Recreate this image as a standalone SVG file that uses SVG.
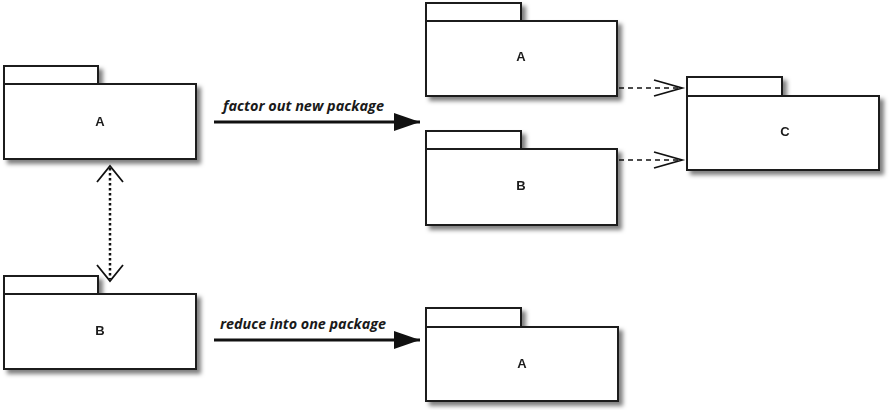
<svg xmlns="http://www.w3.org/2000/svg" width="892" height="410" viewBox="0 0 892 410">
<style>
.pk{fill:#fff;stroke:#1a1a1a;stroke-width:2}
.lb{font-family:"Liberation Sans",Arial,sans-serif;font-weight:bold;font-size:13px;fill:#1a1a1a;text-anchor:middle}
.al{font-family:"Open Sans","Liberation Sans",sans-serif;font-weight:bold;font-style:italic;font-size:14px;fill:#1a1a1a}
.solid{stroke:#111;stroke-width:3;fill:none}
.dash{stroke:#111;stroke-width:1.6;fill:none;stroke-dasharray:5 4}
.dot{stroke:#111;stroke-width:2.5;fill:none;stroke-dasharray:2.5 2.5}
.head{stroke:#111;stroke-width:1.8;fill:none}
</style>
<defs>
<filter id="sh" x="-10%" y="-10%" width="130%" height="140%">
<feDropShadow dx="4" dy="4" stdDeviation="2" flood-color="#000" flood-opacity="0.5"/>
</filter>
<marker id="fill" markerWidth="28" markerHeight="20" refX="26" refY="10" orient="auto" markerUnits="userSpaceOnUse">
<path d="M0,1 L26,10 L0,19 Z" fill="#111"/>
</marker>
</defs>
<g id="pkgA1" filter="url(#sh)">
<rect class="pk" x="4" y="66" width="94" height="18"/>
<rect class="pk" x="4" y="84" width="192" height="75"/>
<text class="lb" x="100" y="126">A</text>
</g>
<g id="pkgB1" filter="url(#sh)">
<rect class="pk" x="4" y="276" width="94" height="18"/>
<rect class="pk" x="4" y="294" width="192" height="75"/>
<text class="lb" x="100" y="335">B</text>
</g>
<g id="pkgA2" filter="url(#sh)">
<rect class="pk" x="426" y="3" width="95" height="18"/>
<rect class="pk" x="426" y="21" width="191" height="75"/>
<text class="lb" x="521" y="61">A</text>
</g>
<g id="pkgB2" filter="url(#sh)">
<rect class="pk" x="426" y="131" width="95" height="18"/>
<rect class="pk" x="426" y="149" width="191" height="76"/>
<text class="lb" x="521" y="190">B</text>
</g>
<g id="pkgC" filter="url(#sh)">
<rect class="pk" x="687" y="77" width="95" height="19"/>
<rect class="pk" x="687" y="96" width="192" height="74"/>
<text class="lb" x="785" y="136">C</text>
</g>
<g id="pkgA3" filter="url(#sh)">
<rect class="pk" x="426" y="308" width="95" height="19"/>
<rect class="pk" x="426" y="327" width="192" height="74"/>
<text class="lb" x="522" y="368">A</text>
</g>
<g id="connectors">
<line class="solid" x1="214" y1="122" x2="420" y2="122" marker-end="url(#fill)"/>
<text class="al" x="223" y="111" textLength="161" lengthAdjust="spacingAndGlyphs">factor out new package</text>
<line class="solid" x1="214" y1="340" x2="420" y2="340" marker-end="url(#fill)"/>
<text class="al" x="220" y="329" textLength="166" lengthAdjust="spacingAndGlyphs">reduce into one package</text>
<line class="dot" x1="110" y1="168" x2="110" y2="279"/>
<polyline class="head" points="97,182 110,166 123,182"/>
<polyline class="head" points="97,265 110,281 123,265"/>
<line class="dash" x1="619" y1="88" x2="682" y2="88"/>
<polyline class="head" points="654,80 682,88 654,96"/>
<line class="dash" x1="619" y1="160" x2="682" y2="160"/>
<polyline class="head" points="654,152 682,160 654,168"/>
</g>
</svg>
